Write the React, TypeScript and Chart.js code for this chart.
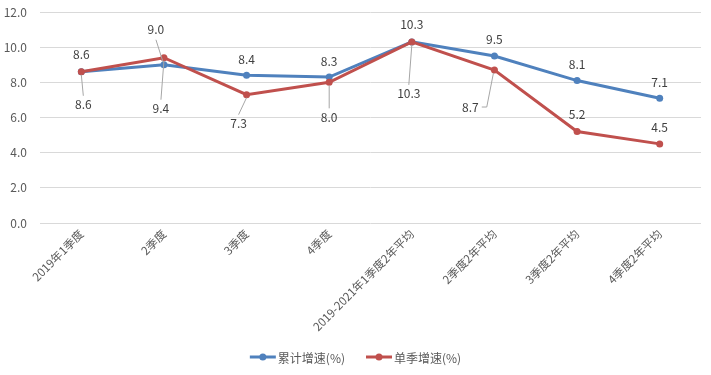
import React, { useEffect, useRef } from "react";
import { Chart, registerables } from "chart.js";

Chart.register(...registerables);

const categories: string[] = [
  "2019年1季度",
  "2季度",
  "3季度",
  "4季度",
  "2019-2021年1季度2年平均",
  "2季度2年平均",
  "3季度2年平均",
  "4季度2年平均",
];
const cumulativeGrowth: number[] = [8.6, 9.0, 8.4, 8.3, 10.3, 9.5, 8.1, 7.1];
const quarterlyGrowth: number[] = [8.6, 9.4, 7.3, 8.0, 10.3, 8.7, 5.2, 4.5];
const seriesNames: string[] = ["累计增速(%)", "单季增速(%)"];
const yTicks: number[] = [0, 2, 4, 6, 8, 10, 12];

const BLUE = "#4F81BD";
const RED = "#C0504D";
const FONT = '"Microsoft YaHei", "Noto Sans CJK SC", sans-serif';

type LabelCfg = { dx: number; dy: number; leader?: "up" | "down" | "elbow" };
// label placement styles (offsets relative to each point)
const cumulativeLabelPos: LabelCfg[] = [
  { dx: 0, dy: -17 },
  { dx: -8, dy: -35, leader: "down" },
  { dx: 0, dy: -16 },
  { dx: 0, dy: -16 },
  { dx: 0, dy: -17 },
  { dx: 0, dy: -17 },
  { dx: 0, dy: -16 },
  { dx: 0, dy: -16 },
];
const quarterlyLabelPos: LabelCfg[] = [
  { dx: 2, dy: 33, leader: "up" },
  { dx: -3, dy: 51, leader: "up" },
  { dx: -8, dy: 29, leader: "up" },
  { dx: 0, dy: 35, leader: "up" },
  { dx: -3, dy: 52, leader: "up" },
  { dx: -24, dy: 37, leader: "elbow" },
  { dx: 0, dy: -17 },
  { dx: 0, dy: -16 },
];

const labelPlugin = {
  id: "valueLabels",
  afterDatasetsDraw(chart: any) {
    const ctx = chart.ctx;
    const cfgs = [cumulativeLabelPos, quarterlyLabelPos];
    ctx.save();
    ctx.font = `12px ${FONT}`;
    ctx.textAlign = "center";
    ctx.textBaseline = "middle";
    chart.data.datasets.forEach((ds: any, di: number) => {
      const meta = chart.getDatasetMeta(di);
      meta.data.forEach((pt: any, i: number) => {
        const c = cfgs[di][i];
        const x = pt.x;
        const y = pt.y;
        const lx = x + c.dx;
        const ly = y + c.dy;
        const text = Number(ds.data[i]).toFixed(1);
        if (c.leader) {
          ctx.strokeStyle = "#A6A6A6";
          ctx.lineWidth = 1;
          ctx.beginPath();
          if (c.leader === "up") {
            ctx.moveTo(lx, ly - 9);
            ctx.lineTo(x, y + 3);
          } else if (c.leader === "down") {
            ctx.moveTo(lx, ly + 10);
            ctx.lineTo(x - 1, y - 3);
          } else {
            const w = ctx.measureText(text).width;
            ctx.moveTo(lx + w / 2 + 3, ly);
            ctx.lineTo(lx + w / 2 + 8, ly);
            ctx.lineTo(x - 1, y + 3);
          }
          ctx.stroke();
        }
        ctx.fillStyle = "#404040";
        ctx.fillText(text, lx, ly);
      });
    });
    ctx.restore();
  },
};

const legendPlugin = {
  id: "customLegend",
  afterDraw(chart: any) {
    const ctx = chart.ctx;
    ctx.save();
    ctx.font = `12px ${FONT}`;
    ctx.textBaseline = "middle";
    ctx.textAlign = "left";
    const lineW = 26;
    const gap = 2;
    const itemGap = 21;
    const colors = [BLUE, RED];
    const widths = seriesNames.map((n) => ctx.measureText(n).width);
    const total =
      widths.reduce((a, w) => a + lineW + gap + w, 0) + itemGap * (seriesNames.length - 1);
    let x = chart.width / 2 - total / 2;
    const y = 357;
    seriesNames.forEach((n, i) => {
      ctx.strokeStyle = colors[i];
      ctx.lineWidth = 3;
      ctx.beginPath();
      ctx.moveTo(x, y);
      ctx.lineTo(x + lineW, y);
      ctx.stroke();
      ctx.fillStyle = colors[i];
      ctx.beginPath();
      ctx.arc(x + lineW / 2, y, 3.5, 0, Math.PI * 2);
      ctx.fill();
      ctx.fillStyle = "#595959";
      ctx.fillText(n, x + lineW + gap, y + 1);
      x += lineW + gap + widths[i] + itemGap;
    });
    ctx.restore();
  },
};

export default function App() {
  const ref = useRef<HTMLCanvasElement | null>(null);
  useEffect(() => {
    document.body.style.margin = "0";
    const canvas = ref.current;
    if (!canvas) return;
    const chart = new Chart(canvas, {
      type: "line",
      data: {
        labels: categories,
        datasets: [
          {
            label: seriesNames[0],
            data: cumulativeGrowth,
            borderColor: BLUE,
            backgroundColor: BLUE,
            borderWidth: 3,
            pointRadius: 3.5,
            pointBorderWidth: 0,
            pointBackgroundColor: BLUE,
            tension: 0,
            order: 1,
          },
          {
            label: seriesNames[1],
            data: quarterlyGrowth,
            borderColor: RED,
            backgroundColor: RED,
            borderWidth: 3,
            pointRadius: 3.5,
            pointBorderWidth: 0,
            pointBackgroundColor: RED,
            tension: 0,
            order: 0,
          },
        ],
      },
      options: {
        responsive: false,
        animation: false,
        layout: { padding: { top: 12, right: 10, bottom: 0, left: 0 } },
        plugins: {
          legend: { display: false },
          tooltip: { enabled: false },
        },
        scales: {
          x: {
            offset: true,
            grid: { display: false, drawTicks: false },
            border: { display: false },
            ticks: {
              autoSkip: false,
              minRotation: 45,
              maxRotation: 45,
              padding: 4,
              color: "#595959",
              font: { family: FONT, size: 11.5 },
            },
            afterFit: (s: any) => {
              s.height = 152;
            },
          },
          y: {
            min: 0,
            max: 12,
            afterBuildTicks: (s: any) => {
              s.ticks = yTicks.map((v) => ({ value: v }));
            },
            grid: { color: "#D9D9D9", lineWidth: 1, drawTicks: false },
            border: { display: false },
            ticks: {
              padding: 13,
              color: "#595959",
              font: { family: FONT, size: 12 },
              callback: (v: any) => Number(v).toFixed(1),
            },
            afterFit: (s: any) => {
              s.width = 40;
              s.paddingTop = 0;
              s.paddingBottom = 0;
            },
          },
        },
      },
      plugins: [labelPlugin, legendPlugin],
    });
    return () => chart.destroy();
  }, []);
  return (
    <div style={{ width: 711, height: 375 }}>
      <canvas ref={ref} width={711} height={375} />
    </div>
  );
}
